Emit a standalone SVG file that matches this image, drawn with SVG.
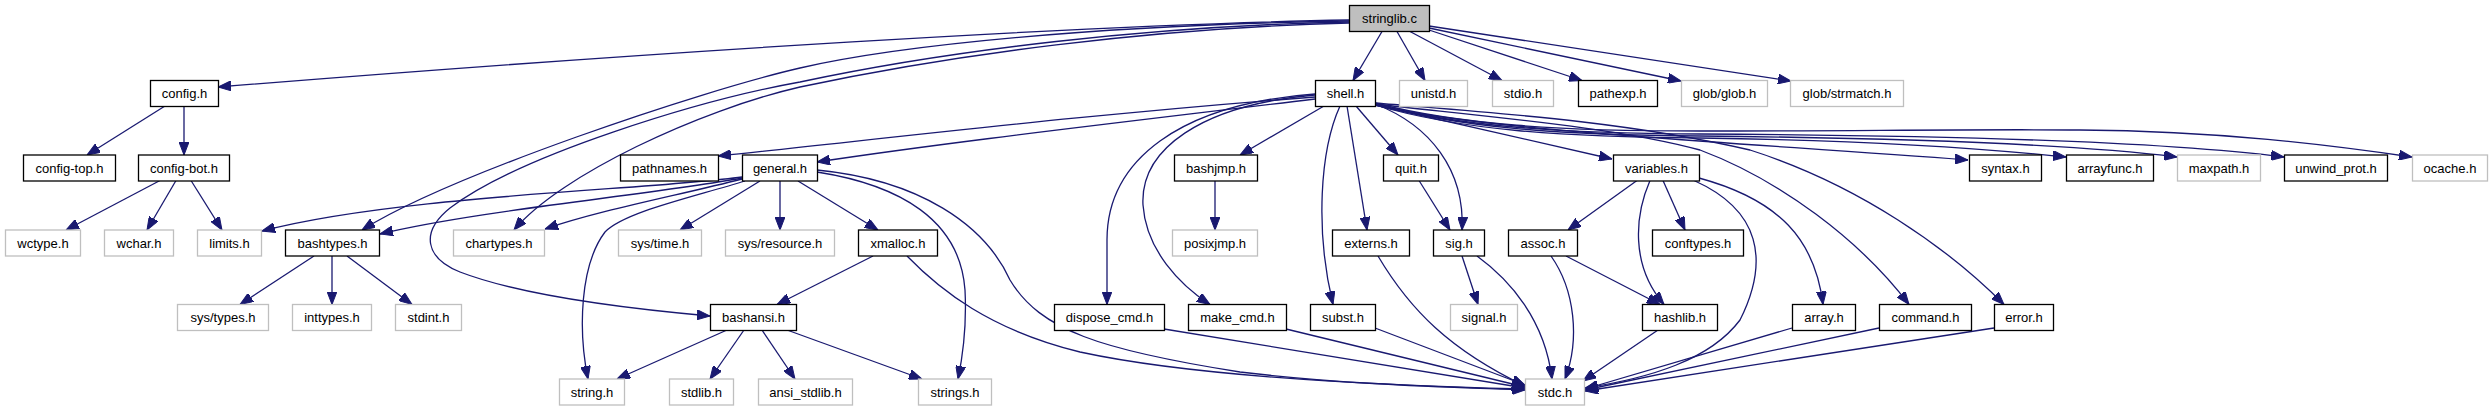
<svg xmlns="http://www.w3.org/2000/svg" width="2492" height="411" viewBox="0 0 2492 411">
<style>
.n rect{fill:#fff;stroke:#000;stroke-width:1.3}
.g rect{fill:#fff;stroke:#bfbfbf;stroke-width:1.3}
.r rect{fill:#bfbfbf;stroke:#000;stroke-width:1.3}
text{font-family:"Liberation Sans",Arial,Helvetica,sans-serif;font-size:13px;text-anchor:middle;fill:#000}
#edges path{fill:none;stroke:#191970;stroke-width:1.3;marker-end:url(#ah)}
</style>
<defs>
<marker id="ah" markerUnits="userSpaceOnUse" markerWidth="13" markerHeight="10" refX="13" refY="5" orient="auto">
<path d="M0,0 L13,5 L0,10 z" fill="#191970" stroke="#191970" stroke-width="1"/>
</marker>
</defs>
<rect width="2492" height="411" fill="#fff"/>
<g id="edges">
<path d="M1349,20 C1100,24 650,52 218,87"/>
<path d="M1349,21 C1100,25 900,45 800,68 C700,91 450,175 362,230"/>
<path d="M1349,22 C1150,26 950,50 800,82 C700,100 520,155 450,208 C420,232 425,258 460,272 C520,295 620,308 710,316"/>
<path d="M1349,23 C1150,28 950,55 800,87 C700,110 560,175 514,230"/>
<path d="M1382,31.5 L1353,80.5"/>
<path d="M1397,31.5 L1425,80.5"/>
<path d="M1410,31.5 L1502,80.5"/>
<path d="M1429,30 L1582,80.5"/>
<path d="M1429,28 L1681,81"/>
<path d="M1429,26 L1791,81"/>
<path d="M184,106 L184,155"/>
<path d="M165,106 L87,155"/>
<path d="M160,180.5 L66,230"/>
<path d="M176,180.5 L147,230"/>
<path d="M191,180.5 L222,230"/>
<path d="M1315,97 C1100,113 900,137 718,156"/>
<path d="M1315,99 C1100,125 950,142 817,162"/>
<path d="M1324,106 L1240,155"/>
<path d="M1315,94 C1180,104 1107,160 1107,240 L1107,304.5"/>
<path d="M1315,95 C1200,105 1140,150 1143,205 C1146,250 1180,285 1210,304.5"/>
<path d="M1340,106 C1320,150 1315,230 1333,304.5"/>
<path d="M1347,106 L1367,230"/>
<path d="M1356,106 L1398,155"/>
<path d="M1375,104 C1430,125 1465,170 1462,230"/>
<path d="M1375,105 L1612,159"/>
<path d="M1375,103 C1460,125 1560,131 1700,131 C1850,131 1980,129 2080,130 C2220,131 2330,145 2412,157"/>
<path d="M1375,104 C1460,127 1560,133 1700,134 C1900,135 2150,140 2284,157"/>
<path d="M1375,104 C1460,128 1560,135 1700,136 C1900,138 2080,145 2177,157"/>
<path d="M1375,105 C1460,130 1560,137 1700,138 C1850,140 1980,148 2066,157"/>
<path d="M1375,105 C1480,130 1700,140 1968,160"/>
<path d="M1375,104 C1500,118 1620,128 1700,150 C1780,180 1860,240 1909,304.5"/>
<path d="M1375,103 C1480,112 1620,120 1750,150 C1860,185 1950,250 2004,304.5"/>
<path d="M742,177 C650,190 400,195 262,231"/>
<path d="M742,178 C650,195 480,210 380,234"/>
<path d="M742,179 C680,195 600,210 545,229"/>
<path d="M745,181 C690,198 625,212 605,232 C580,265 578,330 588,379"/>
<path d="M760,181 L680,230"/>
<path d="M780,181 L780,230"/>
<path d="M798,181 L878,230"/>
<path d="M817,172 C900,185 960,220 965,290 C967,330 962,360 958,379"/>
<path d="M817,170 C920,180 985,225 1010,280 C1040,330 1100,350 1240,372 C1350,385 1450,387 1525,390"/>
<path d="M873,256 L777,304.5"/>
<path d="M907,256 C940,290 990,330 1080,352 C1200,378 1400,386 1525,389"/>
<path d="M727,330 L617,379"/>
<path d="M744,330 L710,379"/>
<path d="M762,330 L795,379"/>
<path d="M787,330 L922,379"/>
<path d="M314,256 L240,304.5"/>
<path d="M332,256 L332,304.5"/>
<path d="M347,256 L412,304.5"/>
<path d="M1215,180.5 L1215,230"/>
<path d="M1419,180.5 L1450,230"/>
<path d="M1462,256 L1478,304.5"/>
<path d="M1477,256 C1510,280 1545,320 1552,379"/>
<path d="M1378,256 C1410,310 1450,350 1525,386"/>
<path d="M1375,328 L1525,385"/>
<path d="M1286,329 L1525,387"/>
<path d="M1164,329 L1525,388"/>
<path d="M1637,180.5 L1568,230"/>
<path d="M1663,180.5 L1685,230"/>
<path d="M1650,180.5 C1635,215 1630,265 1664,304.5"/>
<path d="M1694,180.5 C1760,210 1770,260 1740,320 C1710,360 1650,378 1585,388"/>
<path d="M1699,178 C1780,200 1815,240 1823,304.5"/>
<path d="M1566,256 L1660,304.5"/>
<path d="M1551,256 C1575,290 1580,340 1565,379"/>
<path d="M1658,330 L1583,381"/>
<path d="M1792,328 L1585,389"/>
<path d="M1879,328 L1585,390"/>
<path d="M1994,328 L1585,391"/>
</g>
<g id="n_stringlib" class="r"><rect x="1349.5" y="5.5" width="80" height="26"/><text x="1389.5" y="23">stringlib.c</text></g>
<g id="n_config" class="n"><rect x="150.5" y="80.5" width="68" height="26"/><text x="184.5" y="98">config.h</text></g>
<g id="n_shell" class="n"><rect x="1315.5" y="80.5" width="60" height="26"/><text x="1345.5" y="98">shell.h</text></g>
<g id="n_unistd" class="g"><rect x="1399.5" y="80.5" width="68" height="26"/><text x="1433.5" y="98">unistd.h</text></g>
<g id="n_stdio" class="g"><rect x="1492.5" y="80.5" width="61" height="26"/><text x="1523" y="98">stdio.h</text></g>
<g id="n_pathexp" class="n"><rect x="1578.5" y="80.5" width="79" height="26"/><text x="1618" y="98">pathexp.h</text></g>
<g id="n_globglob" class="g"><rect x="1681.5" y="80.5" width="86" height="26"/><text x="1724.5" y="98">glob/glob.h</text></g>
<g id="n_strmatch" class="g"><rect x="1790.5" y="80.5" width="113" height="26"/><text x="1847" y="98">glob/strmatch.h</text></g>
<g id="n_configtop" class="n"><rect x="23.5" y="155" width="92" height="26"/><text x="69.5" y="172.5">config-top.h</text></g>
<g id="n_configbot" class="n"><rect x="138.5" y="155" width="91" height="26"/><text x="184" y="172.5">config-bot.h</text></g>
<g id="n_pathnames" class="n"><rect x="620.5" y="155" width="98" height="26"/><text x="669.5" y="172.5">pathnames.h</text></g>
<g id="n_general" class="n"><rect x="742.5" y="155" width="75" height="26"/><text x="780" y="172.5">general.h</text></g>
<g id="n_bashjmp" class="n"><rect x="1174.5" y="155" width="83" height="26"/><text x="1216" y="172.5">bashjmp.h</text></g>
<g id="n_quit" class="n"><rect x="1383.5" y="155" width="55" height="26"/><text x="1411" y="172.5">quit.h</text></g>
<g id="n_variables" class="n"><rect x="1613.5" y="155" width="86" height="26"/><text x="1656.5" y="172.5">variables.h</text></g>
<g id="n_syntax" class="n"><rect x="1969.5" y="155" width="72" height="26"/><text x="2005.5" y="172.5">syntax.h</text></g>
<g id="n_arrayfunc" class="n"><rect x="2066.5" y="155" width="87" height="26"/><text x="2110" y="172.5">arrayfunc.h</text></g>
<g id="n_maxpath" class="g"><rect x="2177.5" y="155" width="83" height="26"/><text x="2219" y="172.5">maxpath.h</text></g>
<g id="n_unwind" class="n"><rect x="2284.5" y="155" width="103" height="26"/><text x="2336" y="172.5">unwind_prot.h</text></g>
<g id="n_ocache" class="g"><rect x="2412.5" y="155" width="75" height="26"/><text x="2450" y="172.5">ocache.h</text></g>
<g id="n_wctype" class="g"><rect x="5.5" y="230" width="75" height="26"/><text x="43" y="247.5">wctype.h</text></g>
<g id="n_wchar" class="g"><rect x="104.5" y="230" width="69" height="26"/><text x="139" y="247.5">wchar.h</text></g>
<g id="n_limits" class="g"><rect x="197.5" y="230" width="64" height="26"/><text x="229.5" y="247.5">limits.h</text></g>
<g id="n_bashtypes" class="n"><rect x="285.5" y="230" width="94" height="26"/><text x="332.5" y="247.5">bashtypes.h</text></g>
<g id="n_chartypes" class="g"><rect x="453.5" y="230" width="91" height="26"/><text x="499" y="247.5">chartypes.h</text></g>
<g id="n_systime" class="g"><rect x="618.5" y="230" width="83" height="26"/><text x="660" y="247.5">sys/time.h</text></g>
<g id="n_sysresource" class="g"><rect x="725.5" y="230" width="109" height="26"/><text x="780" y="247.5">sys/resource.h</text></g>
<g id="n_xmalloc" class="n"><rect x="858.5" y="230" width="79" height="26"/><text x="898" y="247.5">xmalloc.h</text></g>
<g id="n_posixjmp" class="g"><rect x="1172.5" y="230" width="85" height="26"/><text x="1215" y="247.5">posixjmp.h</text></g>
<g id="n_externs" class="n"><rect x="1332.5" y="230" width="77" height="26"/><text x="1371" y="247.5">externs.h</text></g>
<g id="n_sig" class="n"><rect x="1433.5" y="230" width="51" height="26"/><text x="1459" y="247.5">sig.h</text></g>
<g id="n_assoc" class="n"><rect x="1508.5" y="230" width="69" height="26"/><text x="1543" y="247.5">assoc.h</text></g>
<g id="n_conftypes" class="n"><rect x="1652.5" y="230" width="91" height="26"/><text x="1698" y="247.5">conftypes.h</text></g>
<g id="n_systypes" class="g"><rect x="177.5" y="304.5" width="91" height="26"/><text x="223" y="322">sys/types.h</text></g>
<g id="n_inttypes" class="g"><rect x="292.5" y="304.5" width="79" height="26"/><text x="332" y="322">inttypes.h</text></g>
<g id="n_stdint" class="g"><rect x="395.5" y="304.5" width="66" height="26"/><text x="428.5" y="322">stdint.h</text></g>
<g id="n_bashansi" class="n"><rect x="710.5" y="304.5" width="86" height="26"/><text x="753.5" y="322">bashansi.h</text></g>
<g id="n_dispose" class="n"><rect x="1054.5" y="304.5" width="110" height="26"/><text x="1109.5" y="322">dispose_cmd.h</text></g>
<g id="n_makecmd" class="n"><rect x="1188.5" y="304.5" width="98" height="26"/><text x="1237.5" y="322">make_cmd.h</text></g>
<g id="n_subst" class="n"><rect x="1310.5" y="304.5" width="65" height="26"/><text x="1343" y="322">subst.h</text></g>
<g id="n_signal" class="g"><rect x="1450.5" y="304.5" width="67" height="26"/><text x="1484" y="322">signal.h</text></g>
<g id="n_hashlib" class="n"><rect x="1642.5" y="304.5" width="75" height="26"/><text x="1680" y="322">hashlib.h</text></g>
<g id="n_array" class="n"><rect x="1792.5" y="304.5" width="63" height="26"/><text x="1824" y="322">array.h</text></g>
<g id="n_command" class="n"><rect x="1879.5" y="304.5" width="92" height="26"/><text x="1925.5" y="322">command.h</text></g>
<g id="n_error" class="n"><rect x="1994.5" y="304.5" width="59" height="26"/><text x="2024" y="322">error.h</text></g>
<g id="n_string" class="g"><rect x="559.5" y="379" width="65" height="26"/><text x="592" y="396.5">string.h</text></g>
<g id="n_stdlib" class="g"><rect x="669.5" y="379" width="64" height="26"/><text x="701.5" y="396.5">stdlib.h</text></g>
<g id="n_ansistdlib" class="g"><rect x="758.5" y="379" width="94" height="26"/><text x="805.5" y="396.5">ansi_stdlib.h</text></g>
<g id="n_strings" class="g"><rect x="918.5" y="379" width="73" height="26"/><text x="955" y="396.5">strings.h</text></g>
<g id="n_stdc" class="g"><rect x="1525.5" y="379" width="59" height="26"/><text x="1555" y="396.5">stdc.h</text></g>
</svg>
